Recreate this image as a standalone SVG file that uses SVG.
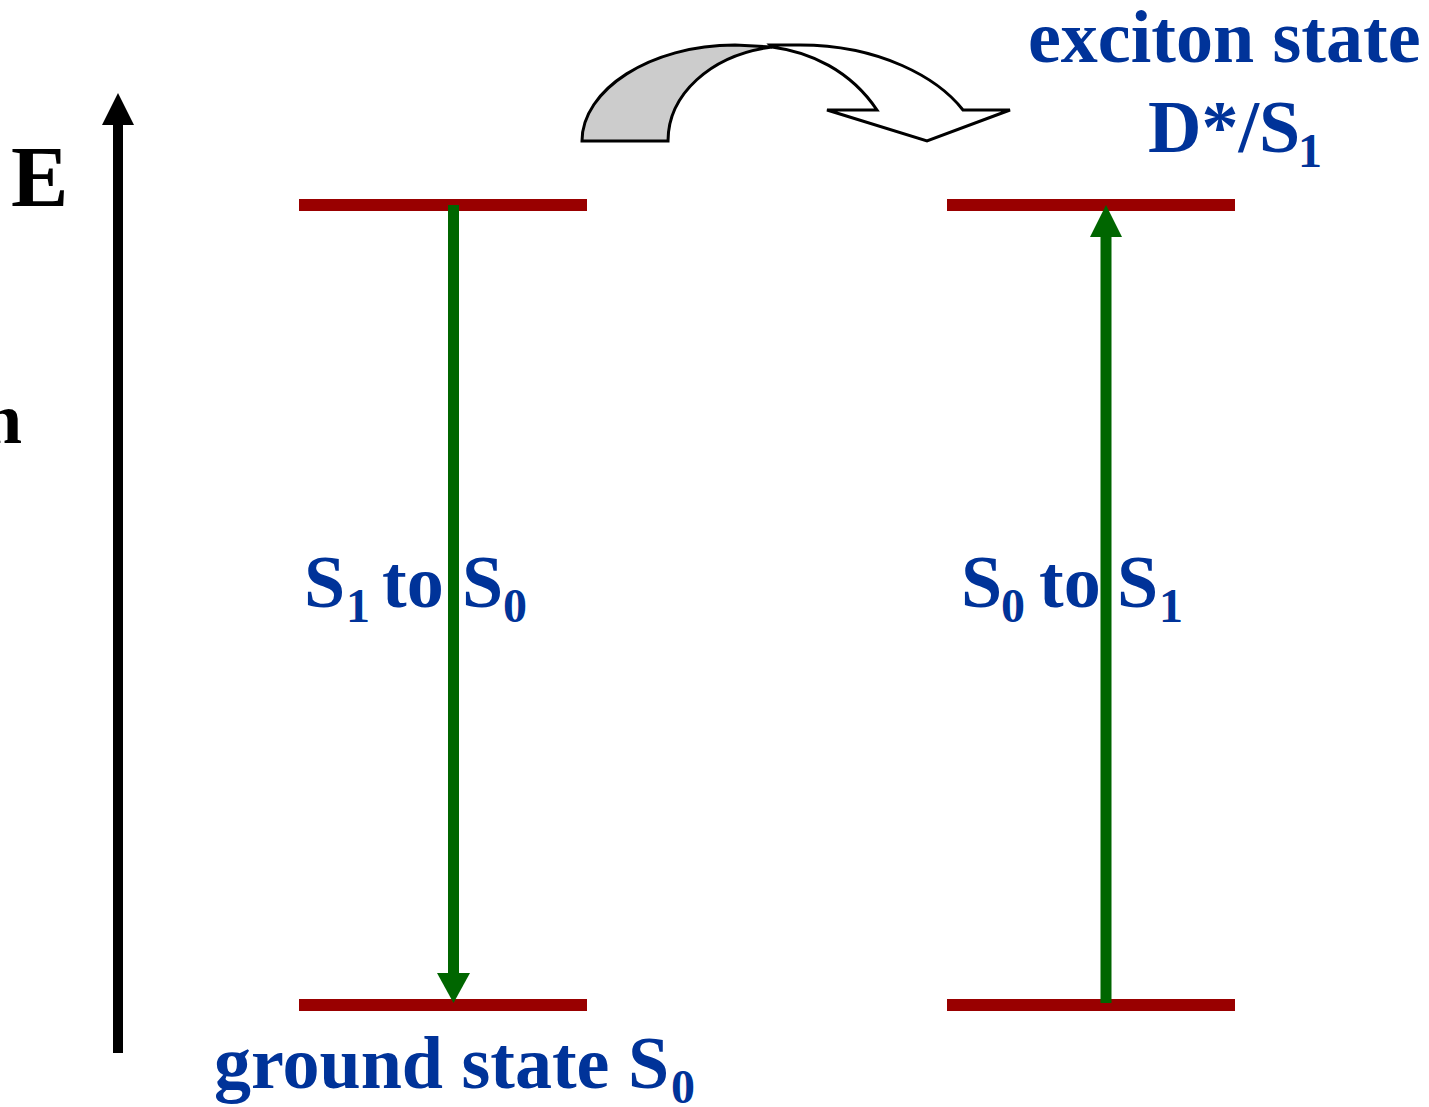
<svg xmlns="http://www.w3.org/2000/svg" width="1429" height="1107" viewBox="0 0 1429 1107">
<style>
.lvl{stroke:#990000;stroke-width:12;fill:none}
.blue{font-family:"Liberation Serif","Times New Roman",serif;font-weight:bold;fill:#003399}
.blk{font-family:"Liberation Serif","Times New Roman",serif;font-weight:bold;fill:#000}
.sh{stroke:#006600;stroke-width:11;fill:none}
.hd{fill:#006600}
.ribbon{stroke:#000;stroke-width:3;stroke-linejoin:miter}
</style>
<rect width="1429" height="1107" fill="#fff"/>
<g id="axis">
<line x1="118" y1="1053" x2="118" y2="120" stroke="#000" stroke-width="10"/>
<polygon points="102,125 134,125 118,93" fill="#000"/>
<text class="blk" x="11" y="206" font-size="86">E</text>
<text class="blk" x="-18" y="443" font-size="72">n</text>
</g>
<g id="level-left-top"><line class="lvl" x1="299" y1="205" x2="587" y2="205"/></g>
<g id="level-left-bottom"><line class="lvl" x1="299" y1="1005" x2="587" y2="1005"/></g>
<g id="level-right-top"><line class="lvl" x1="947" y1="205" x2="1235" y2="205"/></g>
<g id="level-right-bottom"><line class="lvl" x1="947" y1="1005" x2="1235" y2="1005"/></g>
<g id="connectors">
<line class="sh" x1="453.5" y1="205" x2="453.5" y2="976"/>
<polygon class="hd" points="437,973 470,973 453.5,1003"/>
<line class="sh" x1="1106" y1="1003" x2="1106" y2="234"/>
<polygon class="hd" points="1090,237 1122,237 1106,205"/>
</g>
<g id="transfer-arrow">
<path class="ribbon" fill="#cccccc" d="M 582 141 C 582 90 650 45 735 45 L 772 47 C 710 55 668 95 668 141 Z"/>
<path class="ribbon" fill="#ffffff" d="M 772 47 L 770 45 L 800 45 C 880 45 938 78 963 110 L 1010 110 L 927 141 L 827 110 L 877 110 C 850 70 810 52 772 47 Z"/>
</g>
<g id="label-exciton">
<text class="blue" x="1028" y="62" font-size="74">exciton state</text>
<text class="blue" x="1148" y="152" font-size="74">D*/S</text>
<text class="blue" x="1298" y="167" font-size="48">1</text>
</g>
<g id="label-left">
<text class="blue" x="304" y="607" font-size="74">S</text>
<text class="blue" x="346" y="622" font-size="48">1</text>
<text class="blue" x="382" y="607" font-size="74">to</text>
<text class="blue" x="462" y="607" font-size="74">S</text>
<text class="blue" x="503" y="622" font-size="48">0</text>
</g>
<g id="label-right">
<text class="blue" x="961" y="607" font-size="74">S</text>
<text class="blue" x="1001" y="622" font-size="48">0</text>
<text class="blue" x="1039" y="607" font-size="74">to</text>
<text class="blue" x="1117" y="607" font-size="74">S</text>
<text class="blue" x="1159" y="622" font-size="48">1</text>
</g>
<g id="label-ground">
<text class="blue" x="214" y="1088" font-size="74">ground state S</text>
<text class="blue" x="671" y="1103" font-size="48">0</text>
</g>
</svg>
